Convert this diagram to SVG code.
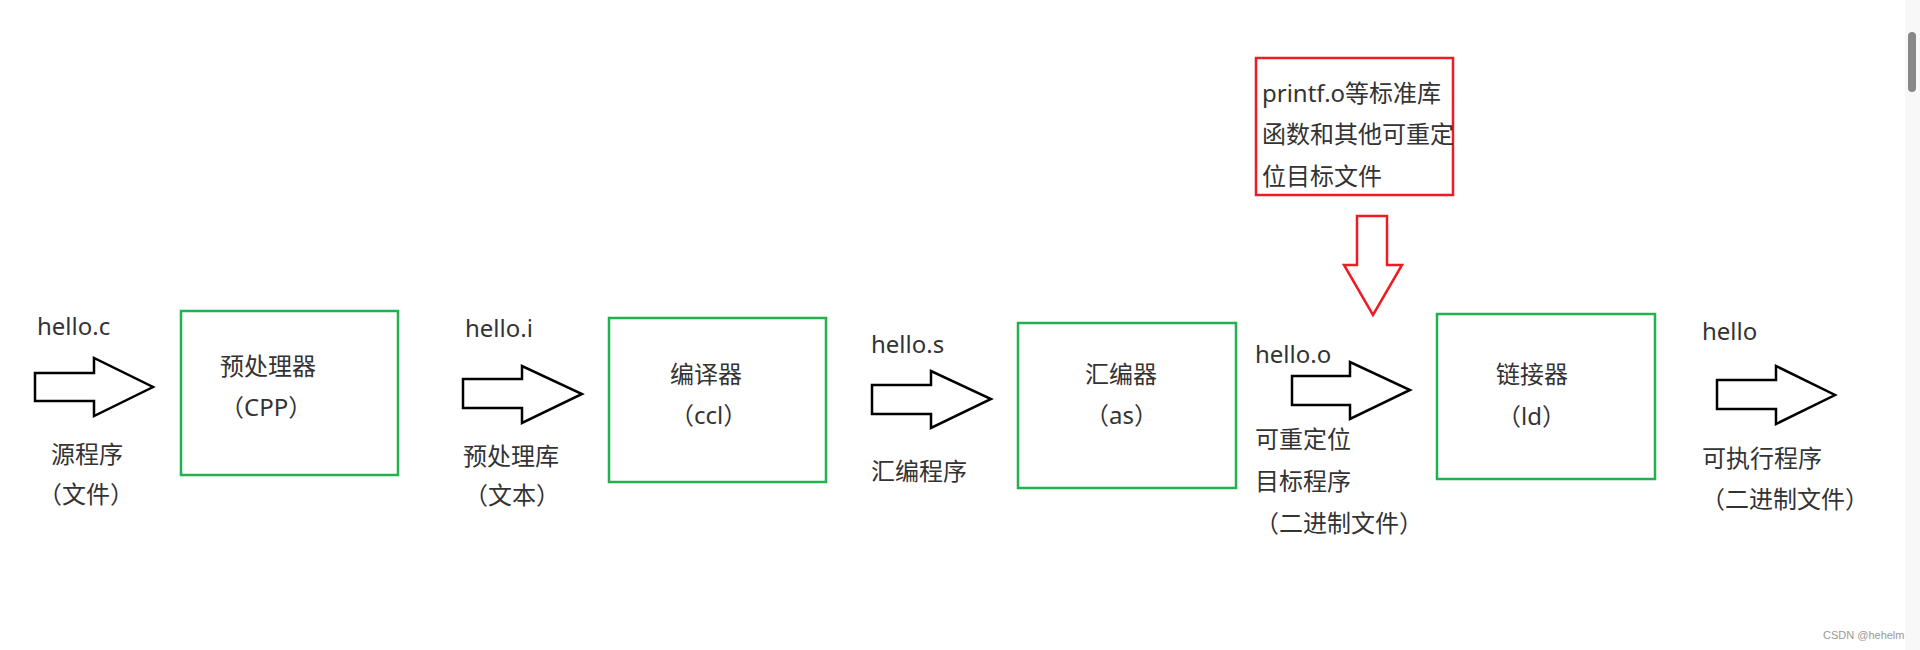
<svg xmlns="http://www.w3.org/2000/svg" width="1920" height="650" viewBox="0 0 1920 650">
<style>
text{font-family:"Noto Sans","Noto Sans CJK SC",sans-serif;font-size:24px;fill:#333}
.box{fill:none;stroke:#22b14c;stroke-width:2.5}
.arr{fill:#fff;stroke:#000;stroke-width:2.5;stroke-linejoin:miter}
.red{fill:none;stroke:#ed1c24;stroke-width:2.5}
.wm{font-family:"Liberation Sans",sans-serif;font-size:11px;fill:#999}
</style>
<rect x="0" y="0" width="1920" height="650" fill="#fff"/>
<rect x="1905" y="0" width="15" height="650" fill="#f8f8f8"/>
<rect x="1908" y="32" width="8" height="60" rx="4" fill="#888"/>
<g id="connectors">
<polygon class="arr" points="35,373 94,373 94,358 153,387 94,416 94,401 35,401"/>
<polygon class="arr" points="463,379 522,379 522,366 582,394 522,423 522,408 463,408"/>
<polygon class="arr" points="872,385 931,385 931,371 991,399 931,428 931,414 872,414"/>
<polygon class="arr" points="1292,376 1350,376 1350,362 1410,390 1350,419 1350,405 1292,405"/>
<polygon class="arr" points="1717,380 1776,380 1776,366 1835,395 1776,424 1776,409 1717,409"/>
<polygon class="red" points="1357,216 1387,216 1387,265 1402,265 1373,315 1344,265 1357,265"/>
</g>
<g id="label-hello-c"><text x="37" y="335">hello.c</text><text x="51" y="463">源程序</text><text x="38" y="503">（文件）</text></g>
<g id="node-cpp"><rect class="box" x="181" y="311" width="217" height="164"/><text x="220" y="375">预处理器</text><text x="220" y="416">（CPP）</text></g>
<g id="label-hello-i"><text x="465" y="337">hello.i</text><text x="463" y="465">预处理库</text><text x="464" y="504">（文本）</text></g>
<g id="node-ccl"><rect class="box" x="609" y="318" width="217" height="164"/><text x="670" y="383">编译器</text><text x="670" y="424">（ccl）</text></g>
<g id="label-hello-s"><text x="871" y="353">hello.s</text><text x="871" y="480">汇编程序</text></g>
<g id="node-as"><rect class="box" x="1018" y="323" width="218" height="165"/><text x="1085" y="383">汇编器</text><text x="1085" y="424">（as）</text></g>
<g id="node-lib"><rect class="red" x="1256" y="58" width="197" height="137"/><text x="1262" y="102">printf.o等标准库</text><text x="1262" y="143">函数和其他可重定</text><text x="1262" y="185">位目标文件</text></g>
<g id="label-hello-o"><text x="1255" y="363">hello.o</text><text x="1255" y="448">可重定位</text><text x="1255" y="490">目标程序</text><text x="1255" y="532">（二进制文件）</text></g>
<g id="node-ld"><rect class="box" x="1437" y="314" width="218" height="165"/><text x="1496" y="383">链接器</text><text x="1497" y="425">（ld）</text></g>
<g id="label-hello"><text x="1702" y="340">hello</text><text x="1702" y="467">可执行程序</text><text x="1701" y="508">（二进制文件）</text></g>
<text class="wm" x="1823" y="639">CSDN @hehelm</text>
</svg>
